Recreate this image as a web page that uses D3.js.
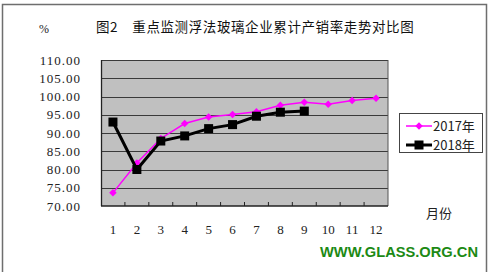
<!DOCTYPE html>
<html><head><meta charset="utf-8">
<script src="https://cdn.jsdelivr.net/npm/d3@7"></script>
<style>body{margin:0;background:#fff}svg{display:block}</style>
</head><body>
<svg id="c" width="492" height="275"></svg>
<script>
const months = ["1","2","3","4","5","6","7","8","9","10","11","12"];
const seriesNames = ["2017年","2018年"];
const v2017 = [73.6, 81.8, 88.5, 92.6, 94.4, 95.1, 95.8, 97.6, 98.4, 97.9, 98.9, 99.5];
const v2018 = [93.0, 80.0, 87.8, 89.2, 91.2, 92.3, 94.6, 95.7, 96.0];
const yTicks = [70,75,80,85,90,95,100,105,110];
const title = "图2　重点监测浮法玻璃企业累计产销率走势对比图";

const svg = d3.select("#c");
const L=101, R=388, T=60, B=206;
const cjk = "'Noto Sans CJK SC', sans-serif";
const num = "'Liberation Serif', 'DejaVu Serif', serif";

// outer frame
svg.append("path").attr("d","M2.5,272 V4.5 H486.5 V272").attr("fill","none").attr("stroke","#6e6e6e").attr("stroke-width",1.5);

const x = d3.scaleBand().domain(months).range([L,R]).padding(0);
const y = d3.scaleLinear().domain([70,110]).range([B,T]);

svg.append("rect").attr("x",L).attr("y",T).attr("width",R-L).attr("height",B-T).attr("fill","#c0c0c0");
// grid
svg.append("g").selectAll("line").data(yTicks.slice(1)).join("line")
  .attr("x1",L).attr("x2",R).attr("y1",d=>Math.round(y(d))+0.5).attr("y2",d=>Math.round(y(d))+0.5)
  .attr("stroke","#3a3a3a").attr("stroke-width",1.2);
// right border
svg.append("line").attr("x1",R).attr("x2",R).attr("y1",T).attr("y2",B).attr("stroke","#555").attr("stroke-width",1);

// y axis labels
svg.append("g").selectAll("text").data(yTicks).join("text")
  .attr("x",81).attr("y",d=>y(d)+4.5).attr("text-anchor","end")
  .attr("font-family",num).attr("font-size",13).attr("letter-spacing","1px").attr("fill","#222")
  .text(d=>d3.format(".2f")(d));
// left axis line
svg.append("line").attr("x1",L+0.5).attr("x2",L+0.5).attr("y1",T).attr("y2",B).attr("stroke","#222").attr("stroke-width",1.3);
// bottom axis
svg.append("line").attr("x1",L).attr("x2",R).attr("y1",B).attr("y2",B).attr("stroke","#222").attr("stroke-width",1.3);
svg.append("g").selectAll("line").data(months.slice(1)).join("line")
  .attr("x1",d=>x(d)).attr("x2",d=>x(d)).attr("y1",B).attr("y2",B-4).attr("stroke","#222");
svg.append("g").selectAll("text").data(months).join("text")
  .attr("x",d=>x(d)+x.bandwidth()/2).attr("y",234).attr("text-anchor","middle")
  .attr("font-family",num).attr("font-size",13).attr("fill","#222").text(d=>d);

const cx = (d,i)=>x(months[i])+x.bandwidth()/2;
const line = d3.line().x((d,i)=>cx(d,i)).y(d=>y(d));
// 2017
svg.append("path").datum(v2017).attr("d",line).attr("fill","none").attr("stroke","#ff00ff").attr("stroke-width",1.5);
svg.append("g").selectAll("path").data(v2017).join("path")
  .attr("transform",(d,i)=>`translate(${cx(d,i)},${y(d)})`)
  .attr("d",d3.symbol(d3.symbolDiamond2,36)).attr("fill","#ff00ff");
// 2018
svg.append("path").datum(v2018).attr("d",line).attr("fill","none").attr("stroke","#000").attr("stroke-width",3);
svg.append("g").selectAll("rect").data(v2018).join("rect")
  .attr("x",(d,i)=>cx(d,i)-4.5).attr("y",d=>y(d)-4.5).attr("width",9).attr("height",9).attr("fill","#000");

// title
svg.append("text").attr("x",96).attr("y",32).attr("font-family",cjk).attr("font-size",13.5).attr("letter-spacing","0.6px").attr("fill","#111").text(title);
svg.append("text").attr("x",39).attr("y",33).attr("font-family",num).attr("font-size",12).attr("fill","#222").text("%");

// legend
svg.append("rect").attr("x",399.5).attr("y",113.5).attr("width",83).attr("height",39).attr("fill","#fff").attr("stroke","#444");
const leg = svg.append("g").selectAll("g").data(seriesNames).join("g").attr("transform",(d,i)=>`translate(0,${126+i*19})`);
leg.append("line").attr("x1",406).attr("x2",432).attr("stroke",(d,i)=>i?"#000":"#ff00ff").attr("stroke-width",(d,i)=>i?3:1.5);
leg.filter((d,i)=>i===0).append("path").attr("transform","translate(419,0)").attr("d",d3.symbol(d3.symbolDiamond2,36)).attr("fill","#ff00ff");
leg.filter((d,i)=>i===1).append("rect").attr("x",414.5).attr("y",-4.5).attr("width",9).attr("height",9).attr("fill","#000");
leg.append("text").attr("x",433).attr("y",5).attr("font-family",cjk).attr("font-size",13).attr("fill","#222").text(d=>d);

svg.append("text").attr("x",439).attr("y",218).attr("text-anchor","middle").attr("font-family",cjk).attr("font-size",13).attr("fill","#222").text("月份");

svg.append("text").attr("x",320).attr("y",257).attr("font-family","'Liberation Sans', Arial, sans-serif").attr("font-weight","bold")
  .attr("font-size",14.5).attr("textLength",158).attr("lengthAdjust","spacingAndGlyphs").attr("fill","#1c8a14").text("WWW.GLASS.ORG.CN");
</script>
</body></html>
